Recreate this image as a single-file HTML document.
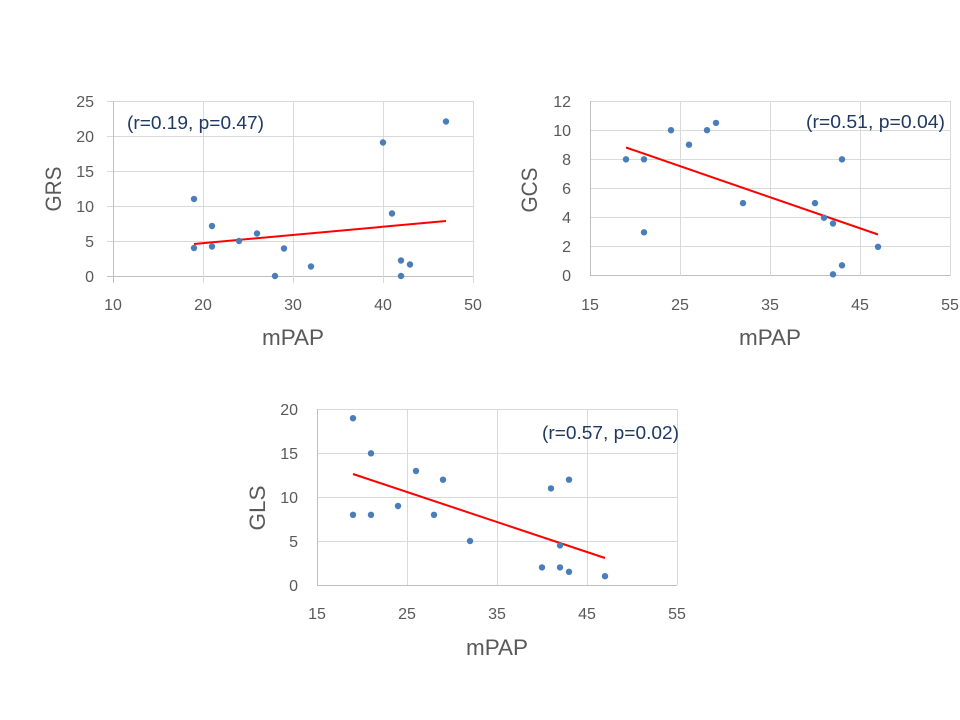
<!DOCTYPE html>
<html><head><meta charset="utf-8"><style>
html,body{margin:0;padding:0;background:#fff;}
svg{display:block;}
text{font-family:"Liberation Sans",sans-serif;}
.t{fill:#595959;font-size:16px;}
.ax{fill:#595959;font-size:22px;}
.an{fill:#1f3864;font-size:18px;}
.g{stroke:#d9d9d9;stroke-width:1;}
.a{stroke:#bfbfbf;stroke-width:1;}
.d{fill:#4a7ebb;}
.r{stroke:#ff0000;stroke-width:2;fill:none;}
</style></head><body>
<svg width="960" height="720" viewBox="0 0 960 720" xmlns="http://www.w3.org/2000/svg">
<rect width="960" height="720" fill="#fff"/>

<!-- Chart 1: GRS -->
<g>
<line class="g" x1="107" y1="101.5" x2="473" y2="101.5"/>
<line class="g" x1="107" y1="136.5" x2="473" y2="136.5"/>
<line class="g" x1="107" y1="171.5" x2="473" y2="171.5"/>
<line class="g" x1="107" y1="206.5" x2="473" y2="206.5"/>
<line class="g" x1="107" y1="241.5" x2="473" y2="241.5"/>
<line class="a" x1="107" y1="276.5" x2="473" y2="276.5"/>
<line class="a" x1="113.5" y1="101" x2="113.5" y2="283"/>
<line class="g" x1="203.5" y1="101" x2="203.5" y2="283"/>
<line class="g" x1="293.5" y1="101" x2="293.5" y2="283"/>
<line class="g" x1="383.5" y1="101" x2="383.5" y2="283"/>
<line class="g" x1="473.5" y1="101" x2="473.5" y2="283"/>
<text class="t" x="94" y="107" text-anchor="end">25</text>
<text class="t" x="94" y="142" text-anchor="end">20</text>
<text class="t" x="94" y="177" text-anchor="end">15</text>
<text class="t" x="94" y="212" text-anchor="end">10</text>
<text class="t" x="94" y="247" text-anchor="end">5</text>
<text class="t" x="94" y="282" text-anchor="end">0</text>
<text class="t" x="113" y="310" text-anchor="middle">10</text>
<text class="t" x="203" y="310" text-anchor="middle">20</text>
<text class="t" x="293" y="310" text-anchor="middle">30</text>
<text class="t" x="383" y="310" text-anchor="middle">40</text>
<text class="t" x="473" y="310" text-anchor="middle">50</text>
<text class="ax" transform="translate(61,189) rotate(-90)" text-anchor="middle" textLength="45" lengthAdjust="spacingAndGlyphs">GRS</text>
<text class="ax" x="262" y="345" textLength="62" lengthAdjust="spacingAndGlyphs">mPAP</text>
<text class="an" x="127" y="129" textLength="137" lengthAdjust="spacingAndGlyphs">(r=0.19, p=0.47)</text>
<line class="r" x1="194" y1="244" x2="446" y2="221"/>
<circle class="d" cx="194" cy="248" r="3.2"/>
<circle class="d" cx="194" cy="199" r="3.2"/>
<circle class="d" cx="212" cy="226" r="3.2"/>
<circle class="d" cx="212" cy="246.5" r="3.2"/>
<circle class="d" cx="239" cy="241" r="3.2"/>
<circle class="d" cx="257" cy="233.5" r="3.2"/>
<circle class="d" cx="275" cy="276" r="3.2"/>
<circle class="d" cx="284" cy="248.5" r="3.2"/>
<circle class="d" cx="311" cy="266.5" r="3.2"/>
<circle class="d" cx="383" cy="142.5" r="3.2"/>
<circle class="d" cx="392" cy="213.5" r="3.2"/>
<circle class="d" cx="401" cy="260.5" r="3.2"/>
<circle class="d" cx="401" cy="276" r="3.2"/>
<circle class="d" cx="410" cy="264.5" r="3.2"/>
<circle class="d" cx="446" cy="121.5" r="3.2"/>
</g>

<!-- Chart 2: GCS -->
<g>
<line class="g" x1="590" y1="101.5" x2="950" y2="101.5"/>
<line class="g" x1="590" y1="130.5" x2="950" y2="130.5"/>
<line class="g" x1="590" y1="159.5" x2="950" y2="159.5"/>
<line class="g" x1="590" y1="188.5" x2="950" y2="188.5"/>
<line class="g" x1="590" y1="217.5" x2="950" y2="217.5"/>
<line class="g" x1="590" y1="246.5" x2="950" y2="246.5"/>
<line class="a" x1="590" y1="275.5" x2="950" y2="275.5"/>
<line class="a" x1="590.5" y1="101" x2="590.5" y2="276"/>
<line class="g" x1="680.5" y1="101" x2="680.5" y2="276"/>
<line class="g" x1="770.5" y1="101" x2="770.5" y2="276"/>
<line class="g" x1="860.5" y1="101" x2="860.5" y2="276"/>
<line class="g" x1="950.5" y1="101" x2="950.5" y2="276"/>
<text class="t" x="571" y="107" text-anchor="end">12</text>
<text class="t" x="571" y="136" text-anchor="end">10</text>
<text class="t" x="571" y="165" text-anchor="end">8</text>
<text class="t" x="571" y="194" text-anchor="end">6</text>
<text class="t" x="571" y="223" text-anchor="end">4</text>
<text class="t" x="571" y="252" text-anchor="end">2</text>
<text class="t" x="571" y="281" text-anchor="end">0</text>
<text class="t" x="590" y="310" text-anchor="middle">15</text>
<text class="t" x="680" y="310" text-anchor="middle">25</text>
<text class="t" x="770" y="310" text-anchor="middle">35</text>
<text class="t" x="860" y="310" text-anchor="middle">45</text>
<text class="t" x="950" y="310" text-anchor="middle">55</text>
<text class="ax" transform="translate(537,190) rotate(-90)" text-anchor="middle" textLength="45" lengthAdjust="spacingAndGlyphs">GCS</text>
<text class="ax" x="739" y="345" textLength="62" lengthAdjust="spacingAndGlyphs">mPAP</text>
<text class="an" x="806" y="128" textLength="139" lengthAdjust="spacingAndGlyphs">(r=0.51, p=0.04)</text>
<line class="r" x1="626" y1="147.5" x2="878" y2="234.5"/>
<circle class="d" cx="626" cy="159.3" r="3.2"/>
<circle class="d" cx="644" cy="159.3" r="3.2"/>
<circle class="d" cx="644" cy="232.3" r="3.2"/>
<circle class="d" cx="671" cy="130.2" r="3.2"/>
<circle class="d" cx="689" cy="144.7" r="3.2"/>
<circle class="d" cx="707" cy="130.2" r="3.2"/>
<circle class="d" cx="716" cy="122.9" r="3.2"/>
<circle class="d" cx="743" cy="203.1" r="3.2"/>
<circle class="d" cx="815" cy="203.1" r="3.2"/>
<circle class="d" cx="824" cy="217.7" r="3.2"/>
<circle class="d" cx="833" cy="223.5" r="3.2"/>
<circle class="d" cx="833" cy="274.3" r="3.2"/>
<circle class="d" cx="842" cy="265.3" r="3.2"/>
<circle class="d" cx="842" cy="159.3" r="3.2"/>
<circle class="d" cx="878" cy="246.8" r="3.2"/>
</g>

<!-- Chart 3: GLS -->
<g>
<line class="g" x1="317" y1="409.5" x2="677" y2="409.5"/>
<line class="g" x1="317" y1="453.5" x2="677" y2="453.5"/>
<line class="g" x1="317" y1="497.5" x2="677" y2="497.5"/>
<line class="g" x1="317" y1="541.5" x2="677" y2="541.5"/>
<line class="a" x1="317" y1="585.5" x2="677" y2="585.5"/>
<line class="a" x1="317.5" y1="409" x2="317.5" y2="585"/>
<line class="g" x1="407.5" y1="409" x2="407.5" y2="585"/>
<line class="g" x1="497.5" y1="409" x2="497.5" y2="585"/>
<line class="g" x1="587.5" y1="409" x2="587.5" y2="585"/>
<line class="g" x1="677.5" y1="409" x2="677.5" y2="585"/>
<text class="t" x="298" y="415" text-anchor="end">20</text>
<text class="t" x="298" y="459" text-anchor="end">15</text>
<text class="t" x="298" y="503" text-anchor="end">10</text>
<text class="t" x="298" y="547" text-anchor="end">5</text>
<text class="t" x="298" y="591" text-anchor="end">0</text>
<text class="t" x="317" y="619" text-anchor="middle">15</text>
<text class="t" x="407" y="619" text-anchor="middle">25</text>
<text class="t" x="497" y="619" text-anchor="middle">35</text>
<text class="t" x="587" y="619" text-anchor="middle">45</text>
<text class="t" x="677" y="619" text-anchor="middle">55</text>
<text class="ax" transform="translate(265,508) rotate(-90)" text-anchor="middle" textLength="45" lengthAdjust="spacingAndGlyphs">GLS</text>
<text class="ax" x="466" y="655" textLength="62" lengthAdjust="spacingAndGlyphs">mPAP</text>
<text class="an" x="542" y="439" textLength="137" lengthAdjust="spacingAndGlyphs">(r=0.57, p=0.02)</text>
<line class="r" x1="353" y1="474" x2="605" y2="558"/>
<circle class="d" cx="353" cy="418.2" r="3.2"/>
<circle class="d" cx="371" cy="453.3" r="3.2"/>
<circle class="d" cx="416" cy="471" r="3.2"/>
<circle class="d" cx="443" cy="479.7" r="3.2"/>
<circle class="d" cx="398" cy="506" r="3.2"/>
<circle class="d" cx="353" cy="514.8" r="3.2"/>
<circle class="d" cx="371" cy="514.8" r="3.2"/>
<circle class="d" cx="434" cy="514.8" r="3.2"/>
<circle class="d" cx="470" cy="541" r="3.2"/>
<circle class="d" cx="551" cy="488.4" r="3.2"/>
<circle class="d" cx="569" cy="479.7" r="3.2"/>
<circle class="d" cx="560" cy="545.4" r="3.2"/>
<circle class="d" cx="542" cy="567.4" r="3.2"/>
<circle class="d" cx="560" cy="567.4" r="3.2"/>
<circle class="d" cx="569" cy="571.8" r="3.2"/>
<circle class="d" cx="605" cy="576.2" r="3.2"/>
</g>
</svg>
</body></html>
